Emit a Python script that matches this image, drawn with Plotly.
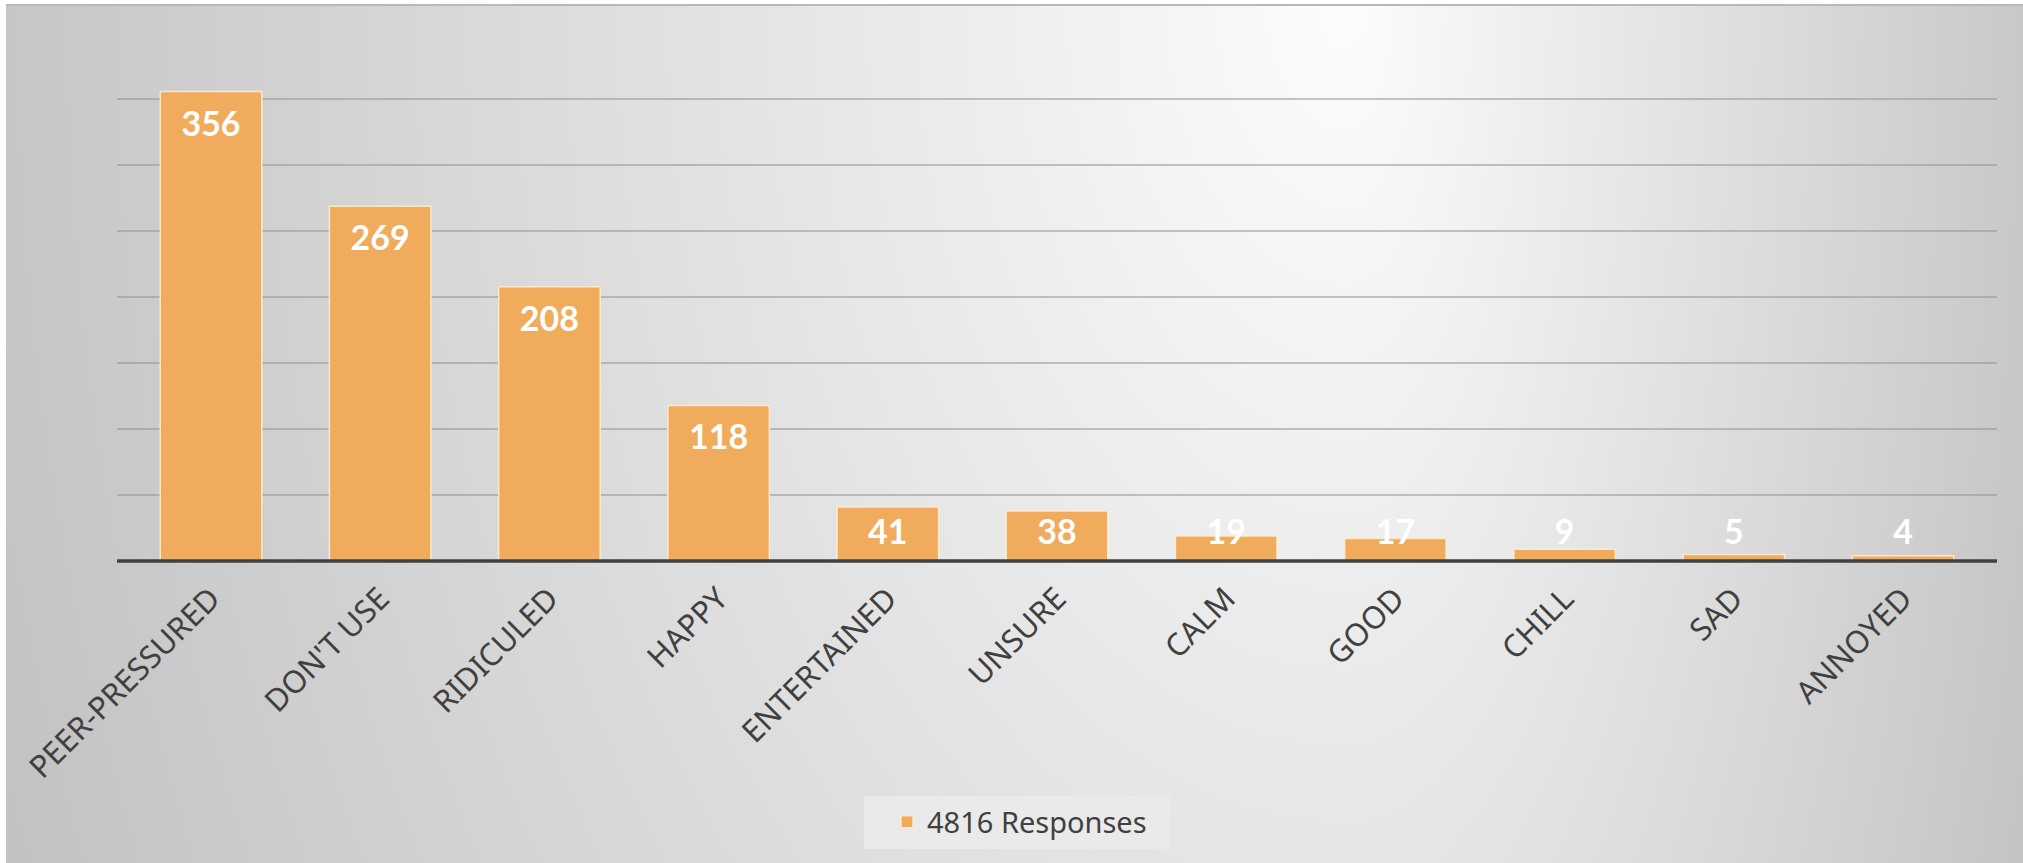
import numpy as np
import plotly.graph_objects as go

# Survey responses per feeling
categories = ["PEER-PRESSURED", "DON'T USE", "RIDICULED", "HAPPY", "ENTERTAINED",
              "UNSURE", "CALM", "GOOD", "CHILL", "SAD", "ANNOYED"]
responses = [356, 269, 208, 118, 41, 38, 19, 17, 9, 5, 4]
series_name = "4816 Responses"

W, H = 2023, 863
BAR_COLOR = "rgb(240,172,92)"
TEXT_DARK = "#404040"

# Soft gray backdrop: bright near the top right, fading to gray at the edges
gx = np.linspace(6, W, 90)
gy = np.linspace(5, H, 45)
X, Y = np.meshgrid(gx, gy)
cx, cy = 1350.0, 0.0
ax = np.where(X < cx, 1500.0, 780.0)
d = np.sqrt(((X - cx) / ax) ** 2 + ((Y - cy) / 2300.0) ** 2)
shade = 252 - 60 * np.clip(d, 0, 1)

fig = go.Figure()
fig.add_trace(go.Heatmap(
    x=gx, y=gy, z=shade, zmin=192, zmax=252, zsmooth="best",
    colorscale=[[0, "rgb(192,192,192)"], [1, "rgb(252,252,252)"]],
    showscale=False, hoverinfo="skip", xaxis="x", yaxis="y",
))

fig.add_trace(go.Bar(
    x=categories, y=responses, name=series_name, width=0.6,
    marker=dict(color=BAR_COLOR, line=dict(color="rgba(255,236,210,0.9)", width=1.5)),
    xaxis="x2", yaxis="y2", hoverinfo="x+y",
))

# Value labels: just inside the top of each bar, kept clear of the baseline
label_y = [max(v - 27, 19.5) for v in responses]
fig.add_trace(go.Scatter(
    x=categories, y=label_y, text=[str(v) for v in responses], mode="text",
    textposition="middle center",
    textfont=dict(family="Lato", size=34, color="white", weight="bold"),
    xaxis="x2", yaxis="y2", showlegend=False, hoverinfo="skip", cliponaxis=False,
))

# Baseline under the bars
base_y = 1 - 561 / H
fig.add_shape(type="line", xref="paper", yref="paper", x0=117 / W, x1=1997 / W,
              y0=base_y, y1=base_y, line=dict(color=TEXT_DARK, width=3.5))
# Thin edge along the top of the chart area
fig.add_shape(type="line", xref="paper", yref="paper", x0=6 / W, x1=1,
              y0=1 - 5 / H, y1=1 - 5 / H, line=dict(color="#b8b8b8", width=2))
# Legend panel
fig.add_shape(type="rect", xref="paper", yref="paper", layer="above",
              x0=864 / W, x1=1170 / W, y0=1 - 849 / H, y1=1 - 796 / H,
              fillcolor="rgba(234,234,234,1)", line=dict(width=0))

fig.update_layout(
    width=W, height=H,
    margin=dict(l=0, r=0, t=0, b=0, autoexpand=False),
    paper_bgcolor="white",
    plot_bgcolor="rgba(0,0,0,0)",
    xaxis=dict(domain=[6 / W, 1], range=[6, W], visible=False, fixedrange=True,
               automargin=False),
    yaxis=dict(domain=[0, 1 - 5 / H], range=[H, 5], visible=False, fixedrange=True,
               automargin=False),
    xaxis2=dict(
        domain=[117 / W, 1997 / W], anchor="y2", automargin=False,
        tickangle=-45, ticks="outside", ticklen=6, tickcolor="rgba(0,0,0,0)",
        showgrid=False, showline=False,
        tickfont=dict(family="Noto Sans", size=31, color=TEXT_DARK),
    ),
    yaxis2=dict(
        domain=[1 - 561 / H, 1 - 33.5 / H], anchor="x2", automargin=False,
        range=[0, 400], dtick=50, showticklabels=False, ticks="",
        showgrid=True, gridcolor="rgba(150,150,150,0.55)", gridwidth=1.5,
        zeroline=False, showline=False,
    ),
    showlegend=True,
    legend=dict(
        orientation="h", x=887 / W, xanchor="left", y=1 - 822 / H, yanchor="middle",
        bgcolor="rgba(0,0,0,0)", borderwidth=0,
        font=dict(family="Noto Sans", size=29, color=TEXT_DARK),
    ),
)

fig.write_html("out.html")
